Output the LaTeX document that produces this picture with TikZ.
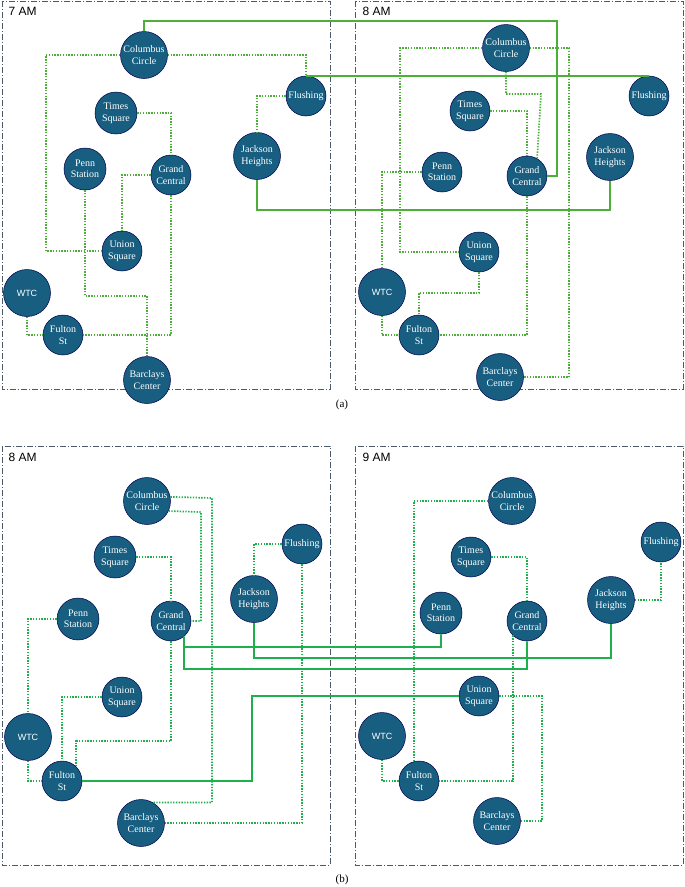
\documentclass[tikz,border=0pt]{standalone}
\usepackage{fontspec}
\setmainfont{Liberation Serif}
\newfontfamily\sansf{Liberation Sans}
\begin{document}
\begin{tikzpicture}[x=1pt,y=-1pt,
 st/.style={circle,draw=black!70!blue,line width=0.5pt,fill=stblue,text=white,inner sep=0pt,minimum size=40pt,align=center,font=\fontsize{10}{11.5}\selectfont},
 big/.style={minimum size=47pt},
 frm/.style={draw=frmc,line width=0.7pt,dash pattern=on 6pt off 2pt on 1pt off 2pt},
 dtA/.style={draw=gA,line width=1.7pt,dash pattern=on 1.4pt off 1.4pt},
 slA/.style={draw=gA,line width=1.8pt},
 dtB/.style={draw=gB,line width=1.7pt,dash pattern=on 1.4pt off 1.4pt},
 slB/.style={draw=gB,line width=1.8pt},
 ttl/.style={anchor=north west,font=\sansf\fontsize{12}{14}\selectfont},
 captxt/.style={font=\fontsize{11}{13}\selectfont}]
\definecolor{stblue}{HTML}{175E80}
\definecolor{frmc}{HTML}{4A5A6A}
\definecolor{gA}{HTML}{4DAF3A}
\definecolor{gB}{HTML}{1DB04C}
\useasboundingbox (0,0) rectangle (685,887);
% frames
\draw[frm] (2,1) rectangle (330,389);
\draw[frm] (355,1) rectangle (683,389);
\draw[frm] (2,446) rectangle (330,865);
\draw[frm] (355,446) rectangle (683,865);
\node[ttl] (t1) at (5,4) {7 AM};
\node[ttl] (t2) at (359,4) {8 AM};
\node[ttl] (t3) at (5,450) {8 AM};
\node[ttl] (t4) at (359,450) {9 AM};
\node[captxt] (ca) at (342,405) {(a)};
\node[captxt] (cb) at (342,880) {(b)};
% ===== 7 AM =====
\node[st,big] (a1) at (144,55) {Columbus\\Circle};
\node[st] (a2) at (306,96) {Flushing};
\node[st,minimum size=42pt] (a3) at (116,113) {Times\\Square};
\node[st,minimum size=42pt] (a4) at (85,169) {Penn\\Station};
\node[st] (a5) at (171,175) {Grand\\Central};
\node[st,big] (a6) at (257,156) {Jackson\\Heights};
\node[st] (a7) at (122,251) {Union\\Square};
\node[st,big,font=\sansf\fontsize{9}{11}\selectfont] (a8) at (27,293) {WTC};
\node[st] (a9) at (63,335) {Fulton\\St};
\node[st,big] (a10) at (147,380) {Barclays\\Center};
% ===== 8 AM (a) =====
\node[st,big] (b1) at (506,48) {Columbus\\Circle};
\node[st] (b2) at (649,96) {Flushing};
\node[st] (b3) at (470,111) {Times\\Square};
\node[st] (b4) at (442,172) {Penn\\Station};
\node[st] (b5) at (527,176) {Grand\\Central};
\node[st,big] (b6) at (610,157) {Jackson\\Heights};
\node[st] (b7) at (479,252) {Union\\Square};
\node[st,big,font=\sansf\fontsize{9}{11}\selectfont] (b8) at (382,292) {WTC};
\node[st] (b9) at (419,335) {Fulton\\St};
\node[st,big] (b10) at (500,377) {Barclays\\Center};
% ===== 8 AM (b) =====
\node[st,big] (c1) at (147,501) {Columbus\\Circle};
\node[st] (c2) at (302,544) {Flushing};
\node[st,minimum size=42pt] (c3) at (115,557) {Times\\Square};
\node[st,minimum size=42pt] (c4) at (78,619) {Penn\\Station};
\node[st] (c5) at (171,621) {Grand\\Central};
\node[st,big] (c6) at (254,599) {Jackson\\Heights};
\node[st] (c7) at (122,697) {Union\\Square};
\node[st,big,font=\sansf\fontsize{9}{11}\selectfont] (c8) at (28,737) {WTC};
\node[st] (c9) at (62,781) {Fulton\\St};
\node[st,big] (c10) at (141,823) {Barclays\\Center};
% ===== 9 AM =====
\node[st,big] (d1) at (512,501) {Columbus\\Circle};
\node[st] (d2) at (661,542) {Flushing};
\node[st] (d3) at (471,557) {Times\\Square};
\node[st,minimum size=42pt] (d4) at (441,613) {Penn\\Station};
\node[st] (d5) at (527,621) {Grand\\Central};
\node[st,big] (d6) at (611,600) {Jackson\\Heights};
\node[st] (d7) at (479,696) {Union\\Square};
\node[st,big,font=\sansf\fontsize{9}{11}\selectfont] (d8) at (382,736) {WTC};
\node[st] (d9) at (419,781) {Fulton\\St};
\node[st,big] (d10) at (497,821) {Barclays\\Center};
% ---- 7 AM dotted
\draw[dtA] (a1.west) -- (46,55) |- (a7.west);
\draw[dtA] (a1.east) -| (a2.north);
\draw[dtA] (a2.west) -| (a6.north);
\draw[dtA] (a3.east) -| (a5.north);
\draw[dtA] (a5.west) -| (a7.north);
\draw[dtA] (a4.south) -- (85,296) -| (a10.north);
\draw[dtA] (a5.south) |- (a9.east);
\draw[dtA] (a8.south) |- (a9.west);
% ---- 8 AM (a) dotted
\draw[dtA] (b1.west) -- (400,48) |- (b7.west);
\draw[dtA] (b1.east) -- (569,48) |- (b10.east);
\draw[dtA] (b1.south) -- (506,94) -- (541,94) -- (b5.60);
\draw[dtA] (b3.east) -| (b5.north);
\draw[dtA] (b4.west) -| (b8.north);
\draw[dtA] (b5.south) |- (b9.east);
\draw[dtA] (b7.south) -- (479,293) -| (b9.north);
\draw[dtA] (b8.south) |- (b9.west);
% ---- solid (a)
\draw[slA] (a1.north) |- (557,21) |- (b5.east);
\draw[slA] (a2.north) -- (b2.north);
\draw[slA] (a6.south) -- (257,210) -| (b6.south);
% ---- 8 AM (b) dotted
\draw[dtB] (c1.10) -- (212,498) |- (c10.60);
\draw[dtB] (c1.-25) -- (201,512) |- (c5.east);
\draw[dtB] (c3.east) -| (c5.north);
\draw[dtB] (c2.west) -| (c6.north);
\draw[dtB] (c2.south) |- (c10.east);
\draw[dtB] (c4.west) -| (c8.north);
\draw[dtB] (c7.west) -| (c9.north);
\draw[dtB] (c5.south) -- (171,741) -| (c9.45);
\draw[dtB] (c8.south) |- (c9.west);
% ---- 9 AM dotted
\draw[dtB] (d1.west) -| (d9.105);
\draw[dtB] (d3.east) -| (d5.north);
\draw[dtB] (d6.east) -| (d2.south);
\draw[dtB] (d5.225) |- (d9.east);
\draw[dtB] (d7.east) -- (542,696) |- (d10.east);
\draw[dtB] (d8.south) |- (d9.west);
% ---- solid (b)
\draw[slB] (c5.-50) -- (184,647) -| (d4.south);
\draw[slB] (c5.-50) -- (184,669) -| (d5.south);
\draw[slB] (c6.south) -- (254,658) -| (d6.south);
\draw[slB] (c9.east) -- (252,781) |- (d7.west);
\end{tikzpicture}
\end{document}
